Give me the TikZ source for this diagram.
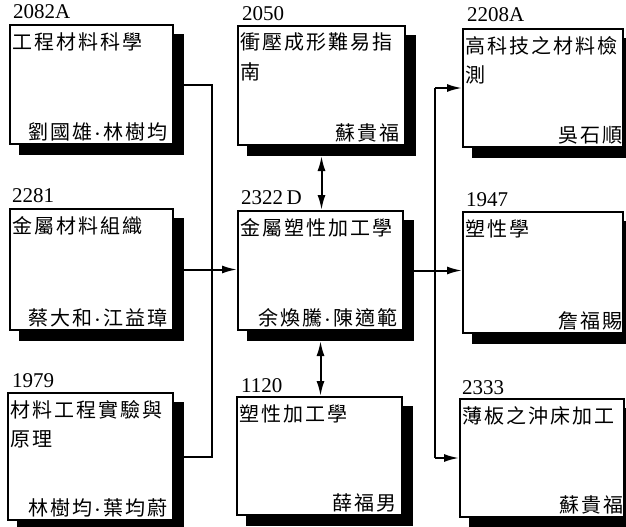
\documentclass[tikz,border=0pt]{standalone}
\usepackage{fontspec}
\setmainfont{Liberation Serif}
\newfontfamily\cjk[LetterSpace=10]{Noto Sans CJK TC}
\usetikzlibrary{shadows,arrows.meta}
\newcommand{\ndot}{\hspace{1.5pt}{\rmfamily\fontsize{22}{22}\selectfont\raisebox{-2pt}{·}}\hspace{2.5pt}}
\tikzset{
  bx/.style={draw, line width=2pt, fill=white, inner sep=0pt,
    copy shadow={shadow xshift=10pt, shadow yshift=-10pt, fill=black, draw=black}},
  ttl/.style={anchor=north west, inner sep=0pt, align=left,
    font=\cjk\fontsize{20}{29}\selectfont},
  aut/.style={anchor=base east, inner sep=0pt, font=\cjk\fontsize{20}{29}\selectfont},
  num/.style={anchor=base west, inner sep=0pt, font=\fontsize{21}{21}\selectfont},
  ln/.style={line width=2pt},
  arr/.style={ln, -{Latex[length=15pt,width=8pt]}},
  darr/.style={ln, {Latex[length=15pt,width=8pt]}-{Latex[length=15pt,width=8pt]}},
}
\begin{document}
\begin{tikzpicture}[x=1pt,y=-1pt]
\useasboundingbox (0,0) rectangle (626,527);
% left column
\node[bx, minimum width=163pt, minimum height=119pt] (L1) at (91.5,84.5) {};
\node[bx, minimum width=163pt, minimum height=121pt] (L2) at (91.5,269.5) {};
\node[bx, minimum width=165pt, minimum height=127pt] (L3) at (90.5,456.5) {};
% centre column
\node[bx, minimum width=167pt, minimum height=119pt] (C1) at (321.5,85.5) {};
\node[bx, minimum width=165pt, minimum height=119pt] (C2) at (320.5,270.5) {};
\node[bx, minimum width=165pt, minimum height=118pt] (C3) at (319.5,456) {};
% right column
\node[bx, minimum width=160pt, minimum height=118pt] (R1) at (543,88) {};
\node[bx, minimum width=160pt, minimum height=121pt] (R2) at (543,272.5) {};
\node[bx, minimum width=164pt, minimum height=118pt] (R3) at (542,458) {};

% numbers
\node[num] (nL1) at ([shift={(4pt,5pt)}]L1.north west) {2082A};
\node[num] (nL2) at ([shift={(3pt,6pt)}]L2.north west) {2281};
\node[num] (nL3) at ([shift={(5pt,5pt)}]L3.north west) {1979};
\node[num] (nC1) at ([shift={(5pt,4pt)}]C1.north west) {2050};
\node[num] (nC2) at ([shift={(4pt,6pt)}]C2.north west) {2322\,D};
\node[num] (nC3) at ([shift={(5pt,4pt)}]C3.north west) {1120};
\node[num] (nR1) at ([shift={(5pt,6pt)}]R1.north west) {2208A};
\node[num] (nR2) at ([shift={(4pt,5pt)}]R2.north west) {1947};
\node[num] (nR3) at ([shift={(3pt,4pt)}]R3.north west) {2333};

% titles
\node[ttl] (tL1) at ([shift={(3pt,-8pt)}]L1.north west) {工程材料科學};
\node[ttl] (tL2) at ([shift={(3pt,-8pt)}]L2.north west) {金屬材料組織};
\node[ttl] (tL3) at ([shift={(3pt,-8pt)}]L3.north west) {材料工程實驗與\\原理};
\node[ttl] (tC1) at ([shift={(3pt,-8pt)}]C1.north west) {衝壓成形難易指\\南};
\node[ttl] (tC2) at ([shift={(3pt,-8pt)}]C2.north west) {金屬塑性加工學};
\node[ttl] (tC3) at ([shift={(3pt,-8pt)}]C3.north west) {塑性加工學};
\node[ttl] (tR1) at ([shift={(3pt,-8pt)}]R1.north west) {高科技之材料檢\\測};
\node[ttl] (tR2) at ([shift={(3pt,-8pt)}]R2.north west) {塑性學};
\node[ttl] (tR3) at ([shift={(3pt,-8pt)}]R3.north west) {薄板之沖床加工};

% authors
\node[aut] (aL1) at ([shift={(-6pt,6pt)}]L1.south east) {劉國雄\ndot 林樹均};
\node[aut] (aL2) at ([shift={(-6pt,6pt)}]L2.south east) {蔡大和\ndot 江益璋};
\node[aut] (aL3) at ([shift={(-6pt,6pt)}]L3.south east) {林樹均\ndot 葉均蔚};
\node[aut] (aC1) at ([shift={(-6pt,6pt)}]C1.south east) {蘇貴福};
\node[aut] (aC2) at ([shift={(-6pt,6pt)}]C2.south east) {余煥騰\ndot 陳適範};
\node[aut] (aC3) at ([shift={(-6pt,6pt)}]C3.south east) {薛福男};
\node[aut] (aR1) at ([shift={(-1pt,6pt)}]R1.south east) {吳石順};
\node[aut] (aR2) at ([shift={(-1pt,6pt)}]R2.south east) {詹福賜};
\node[aut] (aR3) at ([shift={(-1pt,6pt)}]R3.south east) {蘇貴福};

% connectors
\coordinate (busL) at (212,0);
\coordinate (busR) at (435,0);
\draw[ln] ([xshift=10pt]L1.east) -| (busL |- L3.east) -- ([xshift=10pt]L3.east);
\draw[arr] ([xshift=10pt]L2.east) -- (L2.east -| C2.west);
\draw[arr] ([xshift=10pt]C2.east) -- (C2.east -| R2.west);
\draw[ln] (busR |- R1.west) -- (busR |- R3.west);
\draw[arr] (busR |- R1.west) -- (R1.west);
\draw[arr] (busR |- R3.west) -- (R3.west);
\draw[darr] ([yshift=-10pt]C1.south) -- (C1.south |- C2.north);
\draw[darr] ([yshift=-10pt]C2.south) -- (C2.south |- C3.north);
\end{tikzpicture}
\end{document}
